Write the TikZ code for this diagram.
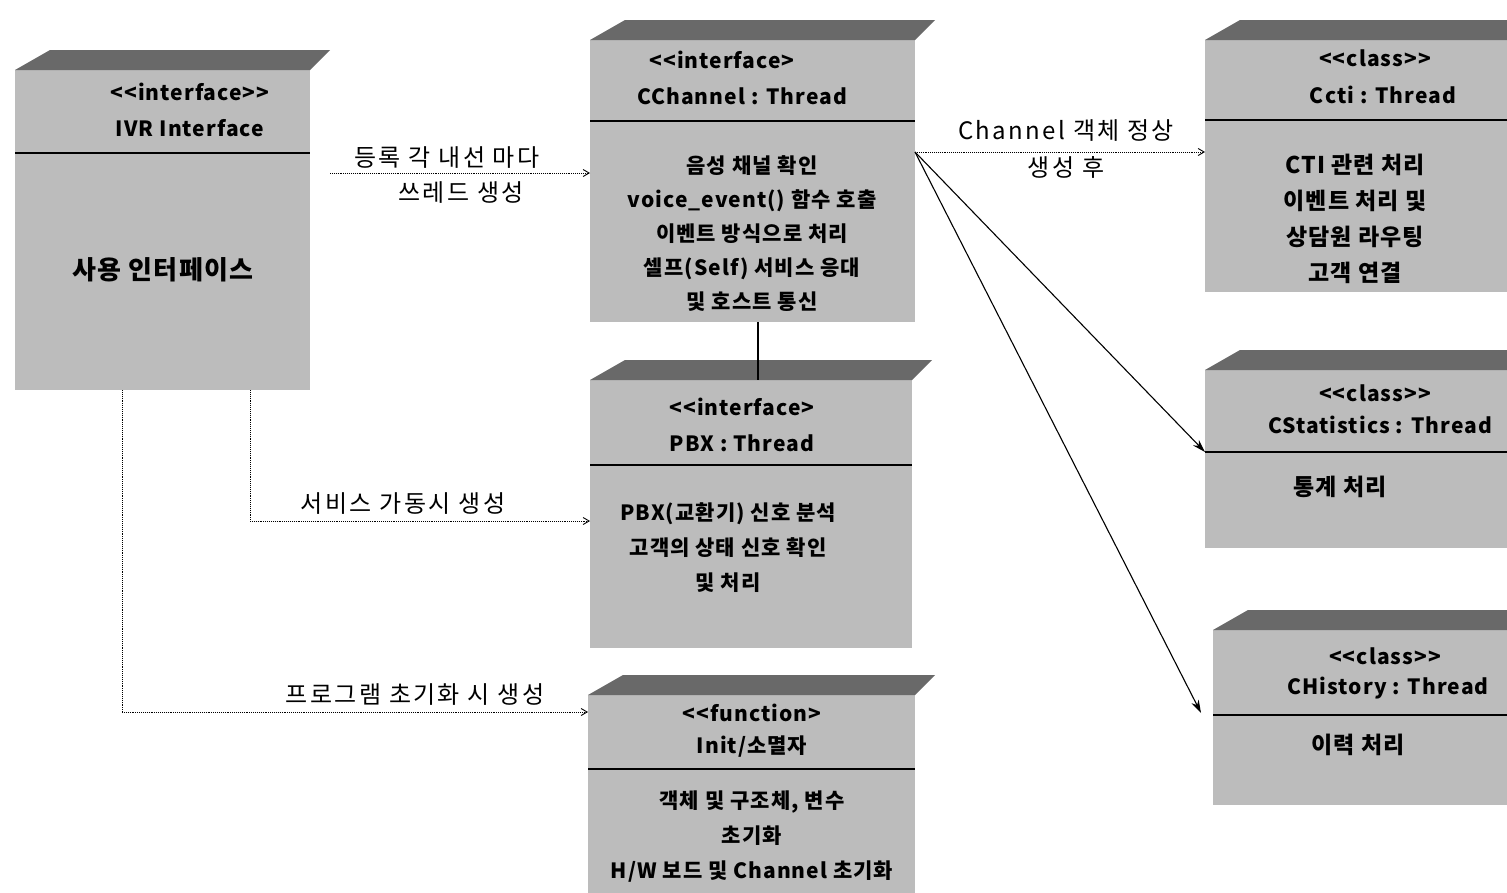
\documentclass[tikz,border=0pt]{standalone}
\usepackage{fontspec}
\setmainfont{Noto Sans CJK KR}
\newfontfamily\bxfont{Noto Sans CJK KR}[LetterSpace=5]
\newfontfamily\lbfont{Noto Sans CJK KR}[LetterSpace=10]
\usetikzlibrary{arrows.meta,calc}
\definecolor{frontgray}{RGB}{188,188,188}
\definecolor{topgray}{RGB}{105,105,105}
\begin{document}
\begin{tikzpicture}[x=1pt,y=-1pt,
  front/.style={fill=frontgray, draw=none, inner sep=0pt, outer sep=0pt, anchor=north west},
  topface/.style={fill=topgray},
  divider/.style={line width=1.6pt},
  boxtext/.style={font=\bxfont\fontsize{21}{23}\selectfont\bfseries, inner sep=0pt, align=center},
  lbl/.style={font=\lbfont\fontsize{24}{26}\selectfont, inner sep=0pt},
  dotarrow/.style={densely dotted, line width=0.9pt, -{Straight Barb[length=6pt,width=7pt]}},
  dotline/.style={densely dotted, line width=0.9pt},
  solidarrow/.style={line width=1.1pt, -{Stealth[length=13pt,width=8pt]}}]
\useasboundingbox (0,0) rectangle (1507,892);
\fill[white] (0,0) rectangle (1507,892);

% ---- boxes (front faces) ----
\node[front, minimum width=295pt, minimum height=320pt] (ivr) at (15,70) {};
\node[front, minimum width=325pt, minimum height=282pt] (cch) at (590,40) {};
\node[front, minimum width=302pt, minimum height=252pt] (cti) at (1205,40) {};
\node[front, minimum width=322pt, minimum height=268pt] (pbx) at (590,380) {};
\node[front, minimum width=327pt, minimum height=200pt] (ini) at (588,695) {};
\node[front, minimum width=302pt, minimum height=178pt] (sta) at (1205,370) {};
\node[front, minimum width=294pt, minimum height=175pt] (his) at (1213,630) {};

% ---- top faces ----
\foreach \n in {ivr,cch,cti,pbx,ini,sta,his}{
  \fill[topface] (\n.north west) -- ++(35,-20) -- ($(\n.north east)+(20,-20)$) -- (\n.north east) -- cycle;
}

% ---- dividers ----
\draw[divider] (ivr.west |- 0,153) -- (ivr.east |- 0,153);
\draw[divider] (cch.west |- 0,121) -- (cch.east |- 0,121);
\draw[divider] (cti.west |- 0,120) -- (cti.east |- 0,120);
\draw[divider] (pbx.west |- 0,465) -- (pbx.east |- 0,465);
\draw[divider] (ini.west |- 0,769) -- (ini.east |- 0,769);
\draw[divider] (sta.west |- 0,452) -- (sta.east |- 0,452);
\draw[divider] (his.west |- 0,715) -- (his.east |- 0,715);

% ---- texts ----
\node[boxtext] (ivr1) at (190,92) {<{}<interface>{}>};
\node[boxtext] (ivr2) at (190,128) {IVR Interface};
\node[boxtext, font=\bxfont\fontsize{26}{28}\selectfont\bfseries] (ivr3) at (163,270) {사용 인터페이스};

\node[boxtext] (cch1) at (722,60) {<{}<interface>};
\node[boxtext] (cch2) at (742,96) {CChannel : Thread};
\node[boxtext, font=\bxfont\fontsize{21}{34}\selectfont\bfseries] (cch3) at (752,234)
  {음성 채널 확인\\voice\_event() 함수 호출\\이벤트 방식으로 처리\\셀프(Self) 서비스 응대\\및 호스트 통신};

\node[boxtext] (cti1) at (1375,58) {<{}<class>{}>};
\node[boxtext] (cti2) at (1383,95) {Ccti : Thread};
\node[boxtext, font=\bxfont\fontsize{23}{36}\selectfont\bfseries] (cti3) at (1355,219)
  {CTI 관련 처리\\이벤트 처리 및\\상담원 라우팅\\고객 연결};

\node[boxtext] (pbx1) at (742,407) {<{}<interface>};
\node[boxtext] (pbx2) at (742,443) {PBX : Thread};
\node[boxtext, font=\bxfont\fontsize{21}{35}\selectfont\bfseries] (pbx3) at (728,548)
  {PBX(교환기) 신호 분석\\고객의 상태 신호 확인\\및 처리};

\node[boxtext] (ini1) at (752,713) {<{}<function>};
\node[boxtext] (ini2) at (752,747) {Init/소멸자};
\node[boxtext, font=\bxfont\fontsize{21}{35}\selectfont\bfseries] (ini3) at (752,837)
  {객체 및 구조체, 변수\\초기화\\H/W 보드 및 Channel 초기화};

\node[boxtext] (sta1) at (1375,393) {<{}<class>{}>};
\node[boxtext] (sta2) at (1380,425) {CStatistics : Thread};
\node[boxtext, font=\bxfont\fontsize{23}{25}\selectfont\bfseries] (sta3) at (1340,487) {통계 처리};

\node[boxtext] (his1) at (1385,656) {<{}<class>{}>};
\node[boxtext] (his2) at (1388,688) {CHistory : Thread};
\node[boxtext, font=\bxfont\fontsize{23}{25}\selectfont\bfseries] (his3) at (1358,745) {이력 처리};

% ---- connector labels ----
\node[lbl] (l1a) at (447,158) {등록 각 내선 마다};
\node[lbl] (l1b) at (461,193) {쓰레드 생성};
\node[lbl] (l2) at (403,504) {서비스 가동시 생성};
\node[lbl] (l3) at (415,695) {프로그램 초기화 시 생성};
\node[lbl] (l4a) at (1066,131) {Channel 객체 정상};
\node[lbl] (l4b) at (1066,167) {생성 후};

% ---- connectors ----
\coordinate (ivrout) at (330,173);
\draw[dotarrow] (ivrout) -- (cch.west |- ivrout);
\coordinate (b1) at (250,390);
\coordinate (b2) at (122,390);
\draw[dotline] (b1) -- (250,521);
\draw[dotarrow] (250,521) -- (pbx.west |- 0,521);
\draw[dotline] (b2) -- (122,712);
\draw[dotarrow] (122,712) -- (ini.west |- 0,712);
\coordinate (cchout) at (915,152);
\draw[dotarrow] (cchout) -- (cti.west |- cchout);
\draw[line width=1.6pt] (cch.south -| 758,0) -- (pbx.north -| 758,0);
\draw[solidarrow] (cchout) -- (sta.west |- 0,452);
\draw[solidarrow] (cchout) -- (1201,713);
\end{tikzpicture}
\end{document}
